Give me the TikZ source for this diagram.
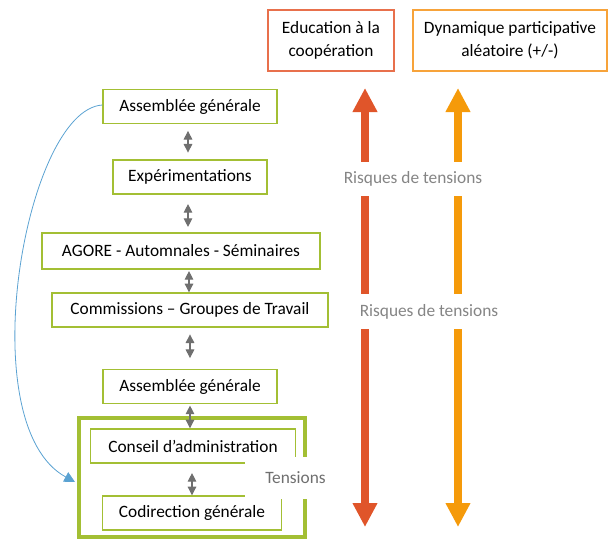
\documentclass[tikz,border=0pt]{standalone}
\usepackage{fontspec}
\setmainfont{Carlito}
\usetikzlibrary{arrows.meta,calc}
\definecolor{boxgreen}{HTML}{A3BF34}
\definecolor{linkgray}{HTML}{6F6F6F}
\definecolor{riskgray}{HTML}{858585}
\definecolor{redarrow}{HTML}{E0552A}
\definecolor{orangearrow}{HTML}{F59A0A}
\definecolor{redborder}{HTML}{E8704C}
\definecolor{orangeborder}{HTML}{F7A33A}
\definecolor{loopblue}{HTML}{5AA2D2}
\begin{document}
\begin{tikzpicture}[x=0.75pt,y=-0.75pt,
  font=\fontsize{13}{17.25}\selectfont,
  box/.style={draw=boxgreen,line width=1.1pt,minimum height=25.5pt,inner sep=0pt},
  topbox/.style={line width=1.1pt,align=center,minimum height=45.75pt,inner sep=0pt},
  link/.style={{Triangle[width=6.5pt,length=6.5pt]}-{Triangle[width=6.5pt,length=6.5pt]},draw=linkgray,line width=0.8pt},
  bigarrow/.style={{Triangle[width=17.5pt,length=18pt]}-{Triangle[width=17.5pt,length=18pt]},line width=6.5pt},
  risk/.style={fill=white,text=riskgray,inner xsep=9pt,inner ysep=7.5pt}]
\useasboundingbox (0,0) rectangle (608,540);

% top boxes
\node[topbox,draw=redborder,minimum width=94.5pt] (educ) at (331,40.5) {Education à la\\coopération};
\node[topbox,draw=orangeborder,minimum width=145.5pt] (dyna) at (510,40.5) {Dynamique participative\\aléatoire (+/-)};

% the two long arrows
\coordinate (redtop) at (365,88);
\coordinate (redbot) at (365,527);
\coordinate (orangetop) at (458,88);
\coordinate (orangebot) at (458,527);
\draw[bigarrow,draw=redarrow,fill=redarrow] (redbot) -- (redtop);
\draw[bigarrow,draw=orangearrow,fill=orangearrow] (orangebot) -- (orangetop);
\node[risk] (risk1) at (413,179) {Risques de tensions};
\node[risk] (risk2) at (429,311.5) {Risques de tensions};

% left column
\node[box,minimum width=130.5pt] (ag1) at (190,106.5) {Assemblée générale};
\node[box,minimum width=115.5pt] (exp) at (190,177) {Expérimentations};
\node[box,minimum width=208.5pt,minimum height=27pt] (agore) at (181,251) {AGORE - Automnales - Séminaires};
\node[box,minimum width=207pt] (comm) at (190,310) {Commissions – Groupes de Travail};
\node[box,minimum width=130.5pt] (ag2) at (190,386.5) {Assemblée générale};
\node[draw=boxgreen,line width=3pt,minimum width=169.5pt,minimum height=89pt] (frame) at (192,477.5) {};
\node[box,minimum width=154pt] (conseil) at (193,446) {Conseil d’administration};
\node[box,minimum width=134pt] (codir) at (192,513) {Codirection générale};
\node[fill=white,text=linkgray,inner xsep=15pt,inner ysep=11pt] (tens) at (295.5,478) {Tensions};

\draw[link,shorten <=5pt,shorten >=5pt] (ag1.south -| 188,0) -- (exp.north -| 188,0);
\draw[link,shorten <=7pt,shorten >=4pt] (exp.south -| 188,0) -- (agore.north -| 188,0);
\draw[link,shorten <=1pt] (agore.south -| 189,0) -- (comm.north -| 189,0);
\draw[link,shorten <=5pt,shorten >=8pt] (comm.south -| 190,0) -- (ag2.north -| 190,0);
\draw[link,shorten <=1pt] (ag2.south -| 190,0) -- (conseil.north -| 190,0);
\draw[link,shorten <=7pt] (conseil.south -| 192,0) -- (codir.north -| 192,0);

% loop back
\coordinate (looptip) at (75,482);
\draw[draw=loopblue,line width=0.6pt,-{Triangle[width=8pt,length=8pt]}]
  (ag1.west |- 0,105) .. controls (25,110) and (-30,425) .. (looptip);
\end{tikzpicture}
\end{document}
